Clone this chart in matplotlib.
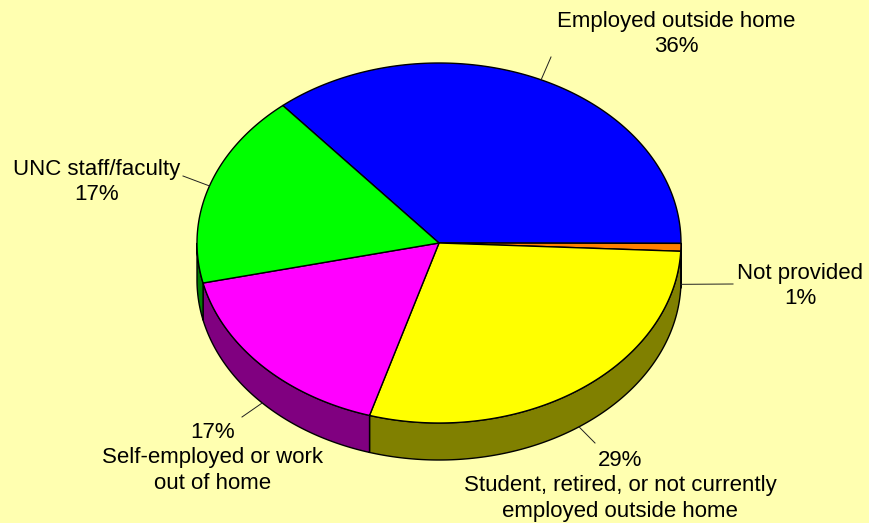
import numpy as np
import matplotlib
matplotlib.use('Agg')
import matplotlib.pyplot as plt
from matplotlib.patches import Polygon

categories = ['Employed outside home', 'Not provided',
              'Student, retired, or not currently\nemployed outside home',
              'Self-employed or work\nout of home', 'UNC staff/faculty']
values = [36.2, 0.7, 28.9, 16.8, 17.4]
top_colors = ['#0000FF', '#FF8000', '#FFFF00', '#FF00FF', '#00FF00']
side_colors = ['#000080', '#804000', '#808000', '#800080', '#008000']

W, H = 869, 523
BG = '#FFFFB0'
fig = plt.figure(figsize=(W / 100, H / 100), dpi=100, facecolor=BG)
ax = fig.add_axes([0, 0, 1, 1])
ax.set_xlim(0, W)
ax.set_ylim(H, 0)
ax.axis('off')
ax.set_facecolor(BG)

cx, cy, rx, ry, depth = 439.0, 243.0, 242.0, 180.0, 37.0
start = 130.2

def pt(a, dz=0.0):
    r = np.radians(a)
    return cx + rx * np.cos(r), cy - ry * np.sin(r) + dz

total = sum(values)
bounds = []
a = start
for v in values:
    a2 = a - v / total * 360.0
    bounds.append((a, a2))
    a = a2

# sides (visible on the front half)
for (a1, a2), sc in zip(bounds, side_colors):
    angs = np.linspace(a1, a2, 400)
    vis = np.sin(np.radians(angs)) <= 1e-9
    if not vis.any():
        continue
    idx = np.where(vis)[0]
    runs = np.split(idx, np.where(np.diff(idx) != 1)[0] + 1)
    for run in runs:
        if len(run) < 2:
            continue
        aa = angs[run]
        top = [pt(t) for t in aa]
        bot = [pt(t, depth) for t in aa[::-1]]
        ax.add_patch(Polygon(top + bot, closed=True, facecolor=sc,
                             edgecolor='black', lw=1.0, joinstyle='round'))

# top faces
for (a1, a2), tc in zip(bounds, top_colors):
    angs = np.linspace(a1, a2, 400)
    poly = [(cx, cy)] + [pt(t) for t in angs]
    ax.add_patch(Polygon(poly, closed=True, facecolor=tc,
                         edgecolor='black', lw=1.0, joinstyle='round'))

# labels
label_pos = [(676, 34), (800, 286), (620, 486), (213, 458), (97, 182)]
line_end = [(551, 57), (733, 284), (595, 443), (242, 417), (183, 176)]
for i, (cat, v) in enumerate(zip(categories, values)):
    a1, a2 = bounds[i]
    mid = (a1 + a2) / 2
    dz = depth if np.sin(np.radians(mid)) < 0 else 0.0
    sx, sy = pt(mid, dz)
    ex, ey = line_end[i]
    ax.plot([sx, ex], [sy, ey], color='#202020', lw=0.7)
    pct = f'{round(v):d}%'
    if np.sin(np.radians(mid)) < -0.5:
        txt = pct + '\n' + cat
    else:
        txt = cat + '\n' + pct
    ax.text(label_pos[i][0], label_pos[i][1], txt, ha='center', va='center',
            fontsize=16, family='Liberation Sans', linespacing=1.3, color='black')

fig.savefig('out.png', dpi=100, facecolor=BG)
